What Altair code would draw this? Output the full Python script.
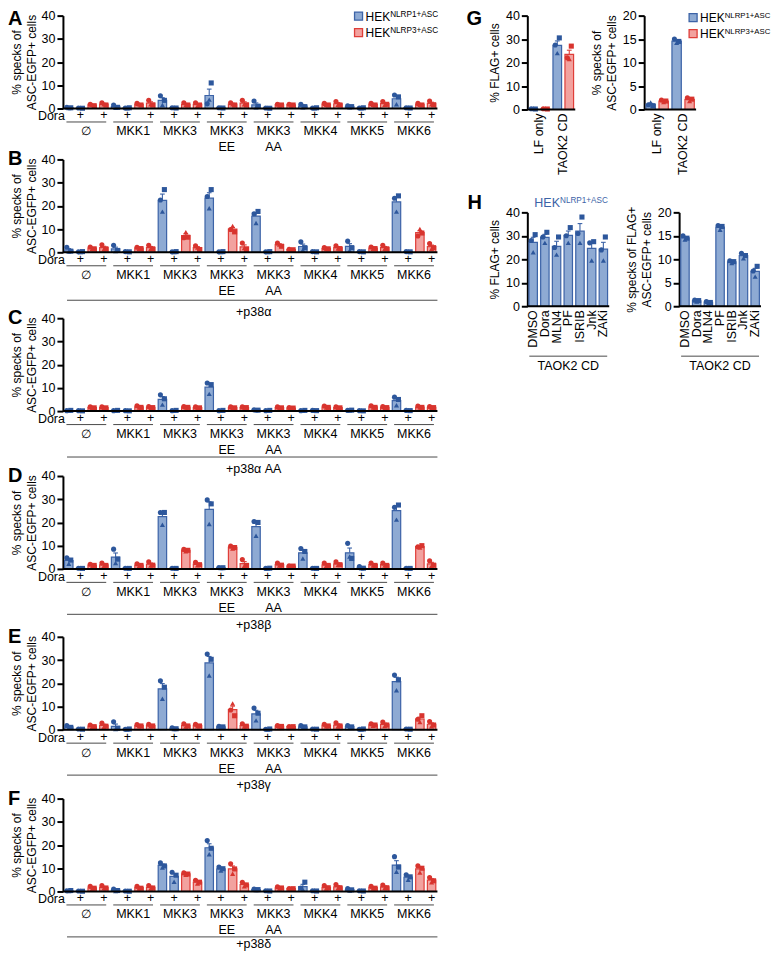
import altair as alt
import pandas as pd

FONT = "Liberation Sans"
BLUE_FILL, BLUE_STROKE, BLUE_PT = "#8eaad3", "#3c63a7", "#2d579c"
RED_FILL, RED_STROKE, RED_PT = "#f2a29f", "#df3e39", "#d8342e"

# ---------------- data ----------------
CELLS = ["NLRP1", "NLRP3"]
LEGEND_SUPS = ["NLRP1+ASC", "NLRP3+ASC"]
REPS = ["r1", "r2", "r3"]          # circle, square, triangle replicates
GROUPS = ["∅", "MKK1", "MKK3", "MKK3\nEE", "MKK3\nAA", "MKK4", "MKK5", "MKK6"]
DORA = ["-", "+", "-", "+"]        # per bar inside each group
SUBLABELS = {"B": "+p38α", "C": "+p38α AA", "D": "+p38β", "E": "+p38γ", "F": "+p38δ"}

# each group: NLRP1 -, NLRP1 +Dora, NLRP3 -, NLRP3 +Dora ; triplets = (circle, square, triangle)
PANEL_A = [
    (0.5, 0.3, 0.2), (0.2, 0.1, 0.3), (1.8, 1.2, 1.5), (2.5, 1.5, 1.8),
    (1.5, 0.5, 0.3), (0.2, 0.3, 0.1), (2.2, 1.5, 1.8), (3.5, 1.5, 1.8),
    (5.5, 3.5, 1.5), (0.3, 0.2, 0.4), (2.5, 1.5, 1.5), (2.5, 1.5, 1.2),
    (2.0, 11.0, 3.8), (0.3, 0.2, 0.4), (2.5, 1.5, 1.8), (3.5, 1.5, 1.8),
    (3.2, 1.0, 0.5), (0.2, 0.1, 0.3), (1.8, 1.5, 1.3), (1.8, 1.5, 1.3),
    (1.8, 0.8, 0.5), (0.2, 0.3, 0.1), (2.2, 1.5, 1.6), (3.0, 1.5, 1.6),
    (1.2, 0.8, 0.5), (0.2, 0.3, 0.1), (2.2, 1.5, 1.6), (3.0, 1.8, 1.6),
    (5.8, 5.0, 1.8), (0.3, 0.2, 0.4), (2.2, 1.5, 1.6), (3.2, 1.6, 1.8),
]
PANEL_B = [
    (2.2, 0.5, 0.3), (0.2, 0.3, 0.1), (2.3, 1.5, 1.5), (3.2, 1.5, 1.3),
    (3.0, 0.8, 0.5), (0.3, 0.2, 0.4), (2.2, 1.6, 1.5), (3.0, 1.5, 1.5),
    (22.5, 27.0, 17.5), (0.2, 0.3, 0.1), (6.3, 6.5, 8.7), (2.8, 1.2, 2.0),
    (24.0, 27.0, 19.0), (0.2, 0.3, 0.1), (9.8, 8.8, 11.3), (4.0, 1.2, 1.8),
    (16.6, 17.6, 12.6), (0.2, 0.3, 0.1), (4.0, 2.6, 3.3), (1.3, 1.1, 1.0),
    (4.5, 2.0, 1.0), (0.3, 0.2, 0.4), (2.0, 1.5, 1.4), (2.8, 1.6, 1.6),
    (4.8, 2.0, 0.8), (0.3, 0.2, 0.4), (2.3, 1.6, 1.5), (3.0, 1.5, 1.5),
    (23.3, 24.3, 17.5), (0.3, 0.2, 0.4), (7.0, 8.3, 10.0), (3.8, 2.0, 1.5),
]
PANEL_C = [
    (0.2, 0.3, 0.1), (0.2, 0.1, 0.3), (1.8, 1.4, 1.3), (1.8, 1.4, 1.3),
    (0.2, 0.3, 0.1), (0.2, 0.1, 0.3), (2.3, 1.6, 1.5), (2.0, 1.5, 1.3),
    (7.0, 5.3, 2.8), (0.2, 0.3, 0.1), (2.0, 1.6, 1.5), (1.8, 1.4, 1.3),
    (12.1, 11.4, 7.4), (0.2, 0.3, 0.1), (1.8, 1.4, 1.3), (1.8, 1.5, 1.2),
    (0.6, 0.4, 0.3), (0.2, 0.3, 0.1), (1.8, 1.4, 1.3), (1.5, 1.3, 1.1),
    (0.2, 0.3, 0.1), (0.3, 0.2, 0.4), (2.2, 1.6, 1.5), (1.8, 1.4, 1.3),
    (0.3, 0.4, 0.2), (0.2, 0.1, 0.3), (2.3, 1.6, 1.5), (2.0, 1.5, 1.3),
    (6.0, 5.0, 2.5), (0.3, 0.2, 0.4), (2.2, 1.6, 1.5), (2.0, 1.5, 1.3),
]
PANEL_D = [
    (4.8, 3.8, 2.2), (0.3, 0.2, 0.4), (2.0, 1.5, 1.0), (2.5, 1.5, 1.3),
    (8.5, 4.2, 2.5), (0.3, 0.2, 0.4), (2.2, 1.5, 1.2), (3.0, 1.6, 1.4),
    (24.3, 24.3, 19.0), (0.3, 0.2, 0.4), (8.4, 8.0, 7.6), (2.8, 1.8, 1.5),
    (29.7, 28.0, 19.3), (0.6, 0.5, 0.4), (9.8, 9.2, 8.8), (4.0, 1.5, 1.3),
    (20.4, 20.0, 14.3), (0.2, 0.3, 0.1), (2.5, 1.6, 1.4), (1.3, 1.2, 1.1),
    (8.8, 7.5, 4.5), (0.3, 0.2, 0.4), (2.5, 1.5, 1.3), (3.0, 1.8, 1.6),
    (11.0, 4.5, 5.3), (1.0, 0.3, 0.2), (2.5, 1.5, 1.4), (2.5, 1.5, 1.4),
    (26.5, 27.5, 21.2), (0.3, 0.2, 0.4), (9.5, 10.0, 9.2), (3.5, 1.6, 1.3),
]
PANEL_E = [
    (1.8, 1.0, 0.8), (0.3, 0.2, 0.4), (2.0, 1.3, 1.2), (2.8, 1.5, 1.2),
    (3.4, 0.6, 0.3), (0.2, 0.3, 0.1), (2.2, 1.6, 1.5), (2.3, 1.6, 1.5),
    (21.1, 18.3, 13.3), (0.8, 0.4, 0.3), (2.5, 1.6, 1.4), (2.3, 1.6, 1.5),
    (32.6, 30.3, 23.3), (1.5, 1.2, 1.0), (8.5, 6.0, 11.3), (2.5, 1.5, 1.4),
    (9.3, 7.1, 4.0), (0.2, 0.3, 0.1), (1.8, 1.4, 1.3), (1.4, 1.3, 1.2),
    (1.8, 1.2, 0.8), (0.3, 0.2, 0.4), (2.3, 1.6, 1.5), (3.0, 1.6, 1.4),
    (1.8, 1.2, 0.9), (0.2, 0.3, 0.1), (2.5, 2.0, 1.7), (3.3, 2.0, 1.6),
    (23.5, 21.5, 17.0), (0.3, 0.2, 0.4), (4.5, 6.0, 3.3), (3.5, 2.0, 1.5),
]
PANEL_F = [
    (0.3, 0.4, 0.2), (0.2, 0.1, 0.3), (2.2, 1.4, 1.2), (2.5, 1.5, 1.4),
    (1.0, 0.4, 0.2), (0.2, 0.1, 0.3), (2.2, 1.4, 1.3), (2.6, 1.5, 1.3),
    (12.3, 11.0, 10.3), (8.3, 7.0, 4.2), (8.0, 7.5, 7.2), (4.8, 4.0, 3.4),
    (21.9, 18.6, 16.0), (10.5, 9.8, 9.0), (11.9, 9.7, 7.6), (4.0, 2.8, 2.2),
    (1.0, 0.8, 0.6), (0.3, 0.2, 0.4), (2.0, 1.5, 1.3), (1.3, 1.2, 1.1),
    (1.5, 4.0, 0.8), (0.3, 0.2, 0.4), (2.5, 1.6, 1.3), (3.0, 1.6, 1.4),
    (1.3, 0.7, 0.4), (0.3, 0.2, 0.4), (2.2, 1.4, 1.3), (2.8, 1.6, 1.5),
    (15.0, 10.5, 8.5), (7.2, 6.3, 5.0), (11.0, 10.0, 8.2), (6.0, 4.6, 4.0),
]

G_GROUPS = ["LF only", "TAOK2 CD"]
# LF-NLRP1, LF-NLRP3, TAOK2-NLRP1, TAOK2-NLRP3
G1_VALUES = [(0.3, 0.2, 0.4), (0.3, 0.2, 0.4), (27.5, 30.5, 24.0), (22.0, 27.0, 21.5)]
G2_VALUES = [(1.0, 0.8, 1.5), (2.0, 1.8, 1.6), (15.0, 14.5, 14.2), (2.5, 2.2, 1.8)]

H_LABELS = ["DMSO", "Dora", "MLN4", "PF", "ISRIB", "Jnk", "ZAKi"]
H1_VALUES = [(28.0, 30.5, 23.0), (29.5, 31.5, 27.0), (25.0, 29.5, 22.0), (30.0, 33.5, 27.0),
             (31.0, 38.0, 27.0), (27.0, 27.5, 19.5), (24.0, 29.5, 19.5)]
H2_VALUES = [(15.0, 14.5, 14.2), (1.3, 1.2, 1.0), (1.0, 0.8, 0.6), (17.2, 17.0, 16.3),
             (9.7, 9.5, 9.2), (11.3, 10.8, 10.2), (7.5, 8.5, 6.3)]
H_GROUP = "TAOK2 CD"

# ---------------- helpers ----------------
ONE = pd.DataFrame({"k": [0]})
fill_scale = alt.Scale(domain=CELLS, range=[BLUE_FILL, RED_FILL])
stroke_scale = alt.Scale(domain=CELLS, range=[BLUE_STROKE, RED_STROKE])
pt_scale = alt.Scale(domain=CELLS, range=[BLUE_PT, RED_PT])
shape_scale = alt.Scale(domain=REPS, range=["circle", "square", "triangle-up"])
OFFS = {"r1": -0.17, "r2": 0.17, "r3": 0.0}
SUB_OFFSET = {"B": 60, "C": 58, "D": 56, "E": 55, "F": 53}


def summarise(values, cells):
    bars, pts = [], []
    for i, (trip, cell) in enumerate(zip(values, cells)):
        s = pd.Series(trip, dtype=float)
        m = s.mean()
        se = s.std(ddof=1) / (len(s) ** 0.5)
        bars.append({"x1": i + 0.14, "x2": i + 0.86, "xc": i + 0.5, "cl": i + 0.3,
                     "cr": i + 0.7, "mean": m, "top": m + se, "cell": cell, "j": i})
        for r, v in zip(REPS, trip):
            pts.append({"xp": i + 0.5 + OFFS[r], "v": v, "cell": cell, "rep": r})
    return pd.DataFrame(bars), pd.DataFrame(pts)


def data_layers(bdf, pdf, xs, ys, yax):
    X = lambda f: alt.X(f, type="quantitative", scale=xs, axis=None)
    Y = lambda f: alt.Y(f, type="quantitative", scale=ys, axis=yax)
    stroke = alt.Stroke("cell:N", scale=stroke_scale, legend=None)
    bars = alt.Chart(bdf).mark_bar(strokeWidth=1.2).encode(
        x=X("x1"), x2="x2", y=Y("mean"), y2=alt.datum(0),
        fill=alt.Fill("cell:N", scale=fill_scale, legend=None), stroke=stroke)
    err = alt.Chart(bdf).mark_rule(strokeWidth=1.1).encode(x=X("xc"), y=Y("mean"), y2="top", stroke=stroke)
    caps = alt.Chart(bdf).mark_rule(strokeWidth=1.1).encode(x=X("cl"), x2="cr", y=Y("top"), stroke=stroke)
    pts = alt.Chart(pdf).mark_point(filled=True, size=26, opacity=1, strokeWidth=0).encode(
        x=X("xp"), y=Y("v"),
        color=alt.Color("cell:N", scale=pt_scale, legend=None),
        shape=alt.Shape("rep:N", scale=shape_scale, legend=None))
    return [bars, err, caps, pts]


def baseline(W, H):
    return alt.Chart(ONE).mark_rule(color="black", strokeWidth=2).encode(
        x=alt.value(0), x2=alt.value(W), y=alt.value(H))


def letter_mark(letter, x, y):
    return alt.Chart(ONE).mark_text(text=letter, fontSize=20, fontWeight="bold",
                                    align="left", baseline="top").encode(x=alt.value(x), y=alt.value(y))


def hek(x, y, sup, color, big=12.5, small=8.5):
    w = 2.056 * big
    t1 = alt.Chart(ONE).mark_text(text="HEK", fontSize=big, align="left", baseline="alphabetic",
                                  color=color).encode(x=alt.value(x), y=alt.value(y + 4.5))
    t2 = alt.Chart(ONE).mark_text(text=sup, fontSize=small, align="left", baseline="alphabetic",
                                  color=color).encode(x=alt.value(x + w), y=alt.value(y + 0.5))
    return [t1, t2]


def legend_layers(x, y, dy, big, small):
    out = []
    for k, (fc, sc) in enumerate([(BLUE_FILL, BLUE_STROKE), (RED_FILL, RED_STROKE)]):
        yy = y + k * dy
        out.append(alt.Chart(ONE).mark_square(size=64, fill=fc, stroke=sc, strokeWidth=1.3, opacity=1)
                   .encode(x=alt.value(x), y=alt.value(yy)))
        out += hek(x + 7, yy, LEGEND_SUPS[k], "black", big, small)
    return out


W_BIG, H_BIG = 375, 93


def big_panel(letter, values, legend=False, letter_y=-10):
    W, H = W_BIG, H_BIG
    n = len(values)
    cells = [CELLS[(j % 4) // 2] for j in range(n)]
    bdf, pdf = summarise(values, cells)
    xs = alt.Scale(domain=[0, n], nice=False, zero=False)
    ys = alt.Scale(domain=[0, 40], nice=False)
    yax = alt.Axis(values=[0, 10, 20, 30, 40], title=["% specks of", "ASC-EGFP+ cells"],
                   titleLineHeight=15, titlePadding=3)
    X = lambda f: alt.X(f, type="quantitative", scale=xs, axis=None)
    layers = data_layers(bdf, pdf, xs, ys, yax)
    layers.append(baseline(W, H))
    plus_df = bdf[[DORA[j % 4] == "+" for j in range(n)]]
    layers.append(alt.Chart(plus_df).mark_text(text="+", fontSize=12.5, baseline="middle")
                  .encode(x=X("xc"), y=alt.value(H + 7)))
    layers.append(alt.Chart(ONE).mark_text(text="Dora", fontSize=12.5, align="right", baseline="middle")
                  .encode(x=alt.value(2), y=alt.value(H + 8)))
    ng = len(GROUPS)
    gdf = pd.DataFrame({"g1": [4 * g + 0.3 for g in range(ng)], "g2": [4 * g + 3.7 for g in range(ng)],
                        "gc": [4 * g + 2 for g in range(ng)], "label": GROUPS})
    layers.append(alt.Chart(gdf).mark_rule(color="#4a4a4a", strokeWidth=1)
                  .encode(x=X("g1"), x2="g2", y=alt.value(H + 13.5)))
    layers.append(alt.Chart(gdf).mark_text(fontSize=12.5, baseline="top", lineBreak="\n", lineHeight=16)
                  .encode(x=X("gc"), y=alt.value(H + 17), text="label:N"))
    if letter in SUBLABELS:
        off = SUB_OFFSET[letter]
        sdf = pd.DataFrame({"a": [0.35], "b": [float(n)], "c": [16.3], "t": [SUBLABELS[letter]]})
        layers.append(alt.Chart(sdf).mark_rule(color="#4a4a4a", strokeWidth=1)
                      .encode(x=X("a"), x2="b", y=alt.value(H + max(off - 12, 45.5))))
        layers.append(alt.Chart(sdf).mark_text(fontSize=12.5, baseline="middle")
                      .encode(x=X("c"), y=alt.value(H + off), text="t:N"))
    layers.append(letter_mark(letter, -55, letter_y))
    if legend:
        layers += legend_layers(296, 0.5, 16.5, 12, 8.2)
    return alt.layer(*layers).properties(width=W, height=H)


def small_panel(values, cells, labels, centers, ymax, ystep, title, W, H, extra=()):
    n = len(values)
    bdf, pdf = summarise(values, cells)
    xs = alt.Scale(domain=[0, n], nice=False, zero=False)
    ys = alt.Scale(domain=[0, ymax], nice=False)
    yax = alt.Axis(values=list(range(0, ymax + 1, ystep)), title=title, titleLineHeight=15, titlePadding=4)
    X = lambda f: alt.X(f, type="quantitative", scale=xs, axis=None)
    layers = data_layers(bdf, pdf, xs, ys, yax)
    layers.append(baseline(W, H))
    ldf = pd.DataFrame({"gc": centers, "label": labels})
    layers.append(alt.Chart(ldf).mark_text(angle=270, align="right", baseline="middle", fontSize=12.5)
                  .encode(x=X("gc"), y=alt.value(H + 4), text="label:N"))
    layers += list(extra)
    return alt.layer(*layers).properties(width=W, height=H)


# ---------------- panels A-F ----------------
pA = big_panel("A", PANEL_A, legend=True, letter_y=-7)
pB = big_panel("B", PANEL_B)
pC = big_panel("C", PANEL_C)
pD = big_panel("D", PANEL_D)
pE = big_panel("E", PANEL_E)
pF = big_panel("F", PANEL_F)

# ---------------- panel G ----------------
GH = 94
g_cells = [CELLS[j % 2] for j in range(4)]
g1 = small_panel(G1_VALUES, g_cells, G_GROUPS, [1.0, 3.0], 40, 10, "% FLAG+ cells", 48, GH,
                 extra=[letter_mark("G", -61, -7)])
g2 = small_panel(G2_VALUES, g_cells, G_GROUPS, [1.0, 3.0], 20, 5, ["% specks of", "ASC-EGFP+ cells"], 52, GH,
                 extra=legend_layers(49, 2, 16, 12, 7.8))

# ---------------- panel H ----------------
h_cells = [CELLS[0]] * 7
h_centers = [i + 0.5 for i in range(7)]


def taok_layers(W, H):
    tdf = pd.DataFrame({"t": [H_GROUP]})
    return [
        alt.Chart(tdf).mark_rule(color="#4a4a4a", strokeWidth=1).encode(
            x=alt.value(2), x2=alt.value(W - 2), y=alt.value(H + 50)),
        alt.Chart(tdf).mark_text(fontSize=12.5, baseline="middle").encode(
            x=alt.value(W / 2), y=alt.value(H + 60), text="t:N"),
    ]


h1 = small_panel(H1_VALUES, h_cells, H_LABELS, h_centers, 40, 10, "% FLAG+ cells", 82, GH,
                 extra=taok_layers(82, GH) + hek(7, -10, LEGEND_SUPS[0], BLUE_STROKE, 12.5, 8.2)
                 + [letter_mark("H", -60, -19)])
h2 = small_panel(H2_VALUES, h_cells, H_LABELS, h_centers, 20, 5, ["% specks of FLAG+", "ASC-EGFP+ cells"], 82, GH,
                 extra=taok_layers(82, GH))

# ---------------- layout (flush bounds; nested groups count as size 0) ----------------
right = alt.vconcat(
    alt.hconcat(g1, g2, spacing=69, bounds="flush"),
    alt.hconcat(h1, h2, spacing=70, bounds="flush"),
    spacing=197, bounds="flush")
row1 = alt.hconcat(pA, right, spacing=90, bounds="flush")
rest = alt.vconcat(
    pB,
    alt.vconcat(pC, alt.vconcat(pD, alt.vconcat(pE, pF, spacing=69, bounds="flush"),
                                spacing=68, bounds="flush"),
                spacing=65, bounds="flush"),
    spacing=66, bounds="flush")

chart = alt.vconcat(row1, rest, spacing=144, bounds="flush").properties(padding=0).configure_view(
    stroke=None
).configure_axis(
    labelFont=FONT, titleFont=FONT, labelFontSize=12.5, titleFontSize=12, titleFontWeight="normal",
    labelColor="black", titleColor="black", domainColor="black", tickColor="black",
    domainWidth=2, tickWidth=2, tickSize=6, labelPadding=2, grid=False
).configure_text(font=FONT, color="black")

chart.save("out.html", embed_options={"renderer": "svg", "actions": False})
